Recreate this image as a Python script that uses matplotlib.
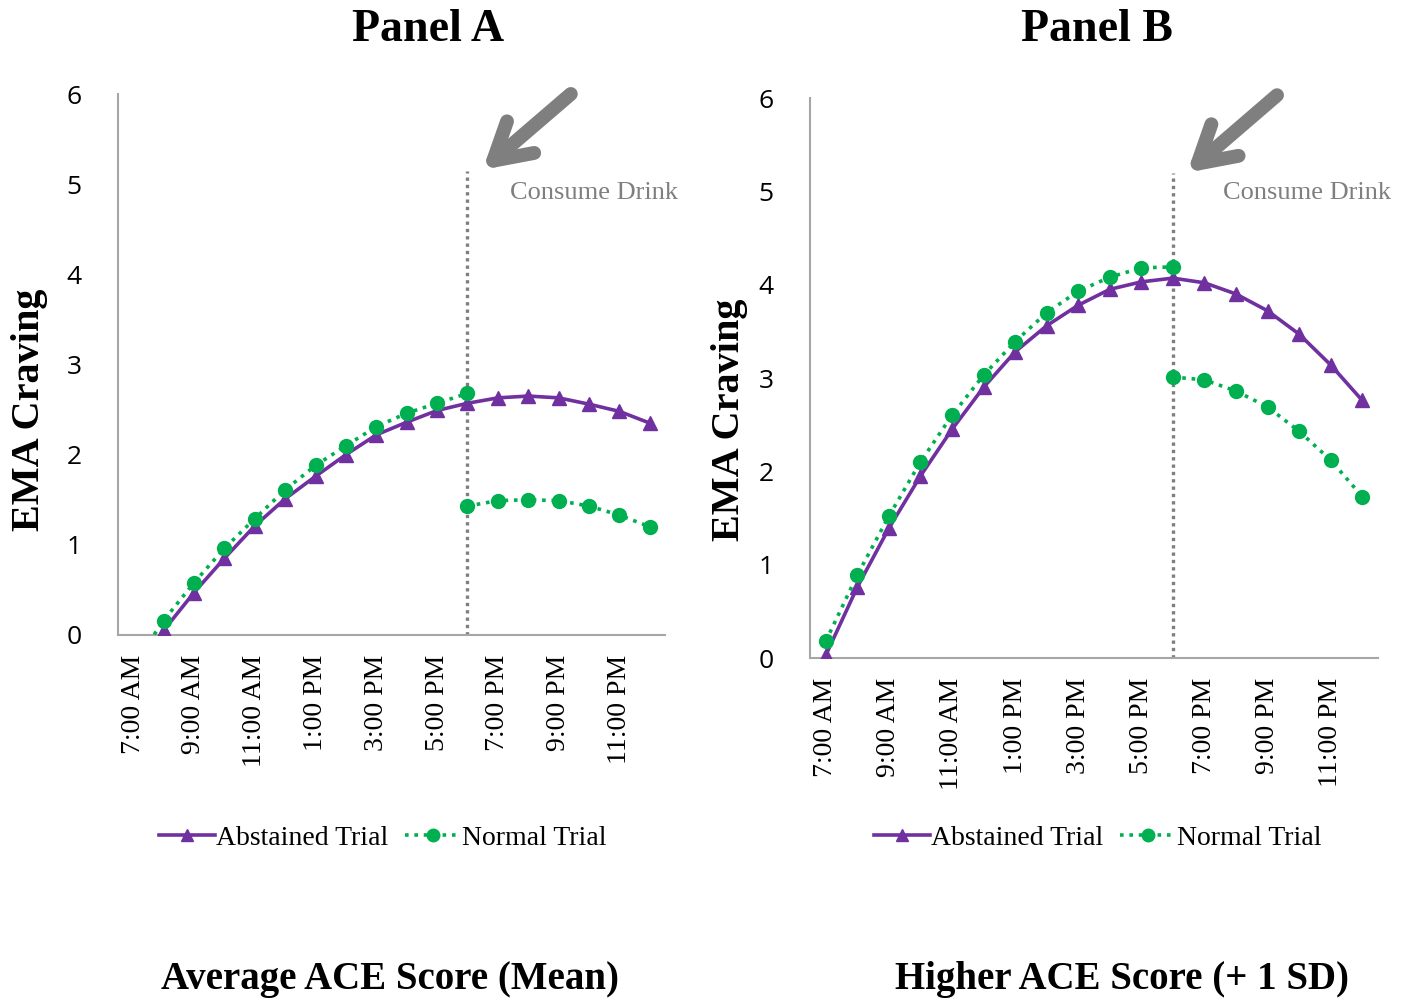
import matplotlib
matplotlib.use("Agg")
import matplotlib.pyplot as plt
import numpy as np

# ---------------- data ----------------
hours = ["7:00 AM", "8:00 AM", "9:00 AM", "10:00 AM", "11:00 AM", "12:00 PM",
         "1:00 PM", "2:00 PM", "3:00 PM", "4:00 PM", "5:00 PM", "6:00 PM",
         "7:00 PM", "8:00 PM", "9:00 PM", "10:00 PM", "11:00 PM", "12:00 AM"]

# Panel A (values at 7:00 AM fall below the axis and are clipped)
a_abstained = [-0.42, 0.05, 0.47, 0.85, 1.21, 1.51, 1.76, 2.00, 2.22, 2.36, 2.49, 2.57,
               2.63, 2.65, 2.63, 2.56, 2.48, 2.35]
a_normal_pre = [-0.34, 0.16, 0.58, 0.96, 1.29, 1.61, 1.88, 2.10, 2.31, 2.46, 2.57, 2.68]
a_normal_post = [1.43, 1.49, 1.50, 1.49, 1.43, 1.33, 1.20]

# Panel B
b_abstained = [0.03, 0.76, 1.39, 1.95, 2.45, 2.90, 3.28, 3.56, 3.78, 3.95, 4.03, 4.07,
               4.02, 3.90, 3.72, 3.47, 3.14, 2.76]
b_normal_pre = [0.18, 0.89, 1.52, 2.10, 2.60, 3.03, 3.39, 3.70, 3.93, 4.08, 4.18, 4.19]
b_normal_post = [3.01, 2.98, 2.86, 2.69, 2.43, 2.12, 1.73]

drink_idx = 11  # 6:00 PM

panels = [
    dict(title="Panel A", subtitle="Average ACE Score (Mean)",
         abst=a_abstained, pre=a_normal_pre, post=a_normal_post,
         rect=[118/1418, 1-635/999, 547/1418, 541/999],
         ylab_x=30/1418, ylab_y=1-410/999, title_x=428/1418, sub_x=390/1418,
         leg_x=383/1418, arrow=((14.4, 6.0), (11.5, 5.16)), text_xy=(12.4, 4.9),
         drink_top=5.15),
    dict(title="Panel B", subtitle="Higher ACE Score (+ 1 SD)",
         abst=b_abstained, pre=b_normal_pre, post=b_normal_post,
         rect=[810/1418, 1-658/999, 568/1418, 560/999],
         ylab_x=730/1418, ylab_y=1-420/999, title_x=1097/1418, sub_x=1122/1418,
         leg_x=1098/1418, arrow=((14.3, 6.03), (11.45, 5.2)), text_xy=(12.58, 4.98),
         drink_top=5.2),
]

PURPLE = "#7030A0"
GREEN = "#00B050"
GRAY = "#7F7F7F"
SERIF = "Liberation Serif"
SANS = "Open Sans"

fig = plt.figure(figsize=(14.18, 9.99), dpi=100)

x_all = np.arange(len(hours))

for p in panels:
    ax = fig.add_axes(p["rect"])
    n_ab = len(p["abst"])
    start = len(hours) - n_ab
    xa = x_all[start:]
    l1, = ax.plot(xa, p["abst"], color=PURPLE, lw=2.6, marker="^", ms=10,
                  markeredgecolor=PURPLE, markerfacecolor=PURPLE, zorder=3)
    xpre = x_all[start:start + len(p["pre"])]
    l2, = ax.plot(xpre, p["pre"], color=GREEN, lw=2.6, ls=(0, (1, 1.6)), marker="o", ms=10,
                  markeredgecolor=GREEN, markerfacecolor=GREEN, zorder=4)
    xpost = x_all[drink_idx:drink_idx + len(p["post"])]
    ax.plot(xpost, p["post"], color=GREEN, lw=2.6, ls=(0, (1, 1.6)), marker="o", ms=10,
            markeredgecolor=GREEN, markerfacecolor=GREEN, zorder=4)

    ax.plot([drink_idx, drink_idx], [0, p["drink_top"]], color=GRAY, lw=2.4,
            ls=(0, (1, 1.2)), zorder=2)

    ax.set_xlim(-0.5, len(hours) - 0.5)
    ax.set_ylim(0, 6)
    ax.set_yticks(range(0, 7))
    ax.set_yticklabels([str(v) for v in range(0, 7)], fontfamily=SANS, fontsize=19)
    ax.set_xticks(x_all[::2])
    ax.set_xticklabels(hours[::2], rotation=90, fontfamily=SERIF, fontsize=20)
    ax.tick_params(axis="both", length=0)
    ax.tick_params(axis="y", pad=26)
    ax.tick_params(axis="x", pad=14)
    for s in ["top", "right"]:
        ax.spines[s].set_visible(False)
    for s in ["left", "bottom"]:
        ax.spines[s].set_color("#A6A6A6")
        ax.spines[s].set_linewidth(1.5)

    (x0, y0), (x1, y1) = p["arrow"]
    ax.annotate("", xy=(x1, y1), xytext=(x0, y0), xycoords="data",
                annotation_clip=False,
                arrowprops=dict(arrowstyle="->,head_length=2.6,head_width=1.5",
                                color=GRAY, lw=10, shrinkA=0, shrinkB=0,
                                capstyle="round", joinstyle="round"))
    ax.text(p["text_xy"][0], p["text_xy"][1], "Consume Drink", color=GRAY,
            fontfamily=SERIF, fontsize=19, va="center", ha="left")

    fig.text(p["title_x"], 1 - 30/999, p["title"], fontfamily=SERIF, fontweight="bold",
             fontsize=33, ha="center", va="center")
    fig.text(p["sub_x"], 1 - 980/999, p["subtitle"], fontfamily=SERIF, fontweight="bold",
             fontsize=28, ha="center", va="center")
    fig.text(p["ylab_x"], p["ylab_y"], "EMA Craving", fontfamily=SERIF, fontweight="bold",
             fontsize=29, rotation=90, ha="center", va="center")

    fig.legend([l1, l2], ["Abstained Trial", "Normal Trial"], loc="center",
               bbox_to_anchor=(p["leg_x"], 1 - 838/999), ncol=2, frameon=False,
               prop=dict(family=SERIF, size=20), handlelength=2.0, handletextpad=0.05,
               columnspacing=0.6, markerscale=0.9)

fig.savefig("out.png", dpi=100)
